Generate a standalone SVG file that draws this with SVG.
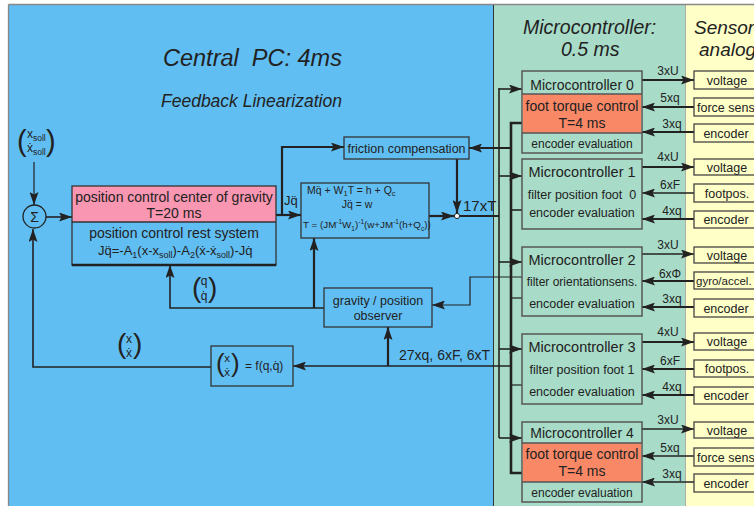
<svg xmlns="http://www.w3.org/2000/svg" width="754" height="506" viewBox="0 0 754 506">
  <defs>
    <marker id="ah" viewBox="0 0 13 9" markerWidth="13" markerHeight="9" refX="13" refY="4.5" orient="auto" markerUnits="userSpaceOnUse">
      <path d="M0,0 L13,4.5 L0,9 L2.5,4.5 z" fill="#222"/>
    </marker>
    <style>
      .t { font-family: "Liberation Sans", Arial, sans-serif; fill: #222; }
      .it { font-style: italic; }
      .mid { text-anchor: middle; }
      .box { stroke: #333; stroke-width: 1.3; }
      .mc { fill: #a8dcc8; stroke: #555; stroke-width: 1.5; }
      .sens { fill: #ffffc8; stroke: #444; stroke-width: 1.3; }
      .w1 { stroke: #222; stroke-width: 1.2; fill: none; }
      .w15 { stroke: #222; stroke-width: 1.6; fill: none; }
      .w2 { stroke: #222; stroke-width: 2.2; fill: none; }
      .w3 { stroke: #222; stroke-width: 2.6; fill: none; }
      .arr { marker-end: url(#ah); }
      .paren { font-family: "Liberation Sans", Arial, sans-serif; fill: #222; font-weight: 300; }
    </style>
  </defs>

  <!-- background panels -->
  <g id="panels">
    <rect x="0" y="0" width="754" height="506" fill="#ffffff"/>
    <rect x="9" y="5" width="484" height="501" fill="#61bef3"/>
    <rect x="493" y="5" width="192" height="501" fill="#a8dcc8"/>
    <rect x="685" y="5" width="69" height="501" fill="#ffffc8"/>
    <line x1="8.5" y1="4.5" x2="754" y2="4.5" stroke="#888" stroke-width="1.3"/>
    <line x1="8.5" y1="4.5" x2="8.5" y2="506" stroke="#888" stroke-width="1.3"/>
    <line x1="493.5" y1="5" x2="493.5" y2="506" stroke="#333" stroke-width="1"/>
    <line x1="685.5" y1="5" x2="685.5" y2="506" stroke="#999" stroke-width="0.8"/>
  </g>

  <!-- section titles -->
  <g id="titles">
    <text class="t it" x="163" y="66" font-size="23.5" xml:space="preserve">Central  PC: 4ms</text>
    <text class="t it" x="161" y="107" font-size="17.5">Feedback Linearization</text>
    <text class="t it" x="523" y="34" font-size="19.5">Microcontroller:</text>
    <text class="t it" x="561" y="56" font-size="19.5">0.5 ms</text>
    <text class="t it" x="694" y="34" font-size="19">Sensors</text>
    <text class="t it" x="699" y="56" font-size="19">analog</text>
  </g>

  <!-- connectors -->
  <g id="connectors">
    <line class="w1 arr" x1="34" y1="162" x2="34" y2="205"/>
    <line class="w15 arr" x1="46" y1="217" x2="72" y2="217"/>
    <polyline class="w15 arr" points="211,367 33,367 33,229"/>
    <line class="w2 arr" x1="276" y1="215" x2="301" y2="215"/>
    <polyline class="w2 arr" points="282,215 282,147 344,147"/>
    <line class="w2 arr" x1="457" y1="159" x2="457" y2="213"/>
    <line class="w2 arr" x1="429" y1="216" x2="454" y2="216"/>
    <line class="w2" x1="460" y1="216" x2="499" y2="216"/>
    <!-- command bus to the microcontrollers -->
    <line class="w15" x1="499" y1="88" x2="499" y2="438"/>
    <line class="w15 arr" x1="499" y1="89" x2="522" y2="89"/>
    <line class="w15 arr" x1="499" y1="176" x2="522" y2="176"/>
    <line class="w15 arr" x1="499" y1="262" x2="522" y2="262"/>
    <line class="w15 arr" x1="499" y1="349" x2="522" y2="349"/>
    <line class="w15 arr" x1="499" y1="438" x2="522" y2="438"/>
    <!-- measurement bus from the microcontrollers -->
    <polyline class="w3" points="522,123 511,123 511,473 522,473"/>
    <line class="w15" x1="511" y1="210" x2="522" y2="210"/>
    <line class="w1" x1="511" y1="298" x2="522" y2="298"/>
    <line class="w1" x1="511" y1="385" x2="522" y2="385"/>
    <line class="w2 arr" x1="511" y1="148" x2="469" y2="148"/>
    <line class="w15 arr" x1="511" y1="366" x2="293" y2="366"/>
    <line class="w2 arr" x1="388" y1="366" x2="388" y2="327"/>
    <polyline class="w1 arr" points="522,277 470,277 470,305 432,305"/>
    <polyline class="w15 arr" points="324,308 170,308 170,265"/>
    <line class="w2 arr" x1="314" y1="308" x2="314" y2="238"/>
    <!-- sensor lines -->
    <line class="w2 arr" x1="642" y1="80" x2="694" y2="80"/>
    <line class="w2 arr" x1="694" y1="107" x2="642" y2="107"/>
    <line class="w2 arr" x1="694" y1="132" x2="642" y2="132"/>
    <line class="w2 arr" x1="642" y1="167" x2="694" y2="167"/>
    <line class="w15 arr" x1="694" y1="193" x2="642" y2="193"/>
    <line class="w2 arr" x1="694" y1="219" x2="642" y2="219"/>
    <line class="w15 arr" x1="642" y1="254" x2="694" y2="254"/>
    <line class="w2 arr" x1="694" y1="281" x2="642" y2="281"/>
    <line class="w2 arr" x1="694" y1="307" x2="642" y2="307"/>
    <line class="w2 arr" x1="642" y1="342" x2="694" y2="342"/>
    <line class="w2 arr" x1="694" y1="369" x2="642" y2="369"/>
    <line class="w2 arr" x1="694" y1="395" x2="642" y2="395"/>
    <line class="w15 arr" x1="642" y1="429" x2="694" y2="429"/>
    <line class="w15 arr" x1="694" y1="456" x2="642" y2="456"/>
    <line class="w15 arr" x1="694" y1="482" x2="642" y2="482"/>
    <circle cx="457" cy="216" r="2.6" fill="#fff" stroke="#222" stroke-width="1"/>
  </g>

  <!-- connector labels -->
  <g id="labels">
    <text class="t" x="284" y="205" font-size="13">Jq&#x308;</text>
    <text class="t" x="463" y="211" font-size="15">17xT</text>
    <text class="t" x="399" y="360" font-size="14">27xq, 6xF, 6xT</text>
    <g font-size="12" class="t mid">
      <text class="t mid" x="668" y="75">3xU</text>
      <text class="t mid" x="670" y="102">5xq</text>
      <text class="t mid" x="672" y="128">3xq</text>
      <text class="t mid" x="668" y="161">4xU</text>
      <text class="t mid" x="670" y="189">6xF</text>
      <text class="t mid" x="672" y="215">4xq</text>
      <text class="t mid" x="668" y="249">3xU</text>
      <text class="t mid" x="670" y="278">6xΦ</text>
      <text class="t mid" x="672" y="303">3xq</text>
      <text class="t mid" x="668" y="336">4xU</text>
      <text class="t mid" x="670" y="365">6xF</text>
      <text class="t mid" x="672" y="391">4xq</text>
      <text class="t mid" x="668" y="424">3xU</text>
      <text class="t mid" x="670" y="452">5xq</text>
      <text class="t mid" x="672" y="478">3xq</text>
    </g>
    <!-- set-point vector -->
    <text class="paren" x="17" y="151" font-size="29">(</text>
    <text class="paren" x="46" y="151" font-size="29">)</text>
    <text class="t" x="27" y="138" font-size="12">x<tspan dy="3" font-size="8.5">soll</tspan></text>
    <text class="t" x="27" y="152" font-size="12">ẋ<tspan dy="3" font-size="8.5">soll</tspan></text>
    <!-- joint state vector -->
    <text class="paren" x="192" y="297" font-size="28">(</text>
    <text class="paren" x="208" y="297" font-size="28">)</text>
    <text class="t mid" x="204" y="285" font-size="12">q</text>
    <text class="t mid" x="204" y="300" font-size="12">q&#x307;</text>
    <!-- feedback vector -->
    <text class="paren" x="117" y="353" font-size="28">(</text>
    <text class="paren" x="133" y="353" font-size="28">)</text>
    <text class="t mid" x="129" y="343" font-size="12">x</text>
    <text class="t mid" x="129" y="357" font-size="12">ẋ</text>
  </g>

  <!-- summation point -->
  <g id="sum">
    <circle cx="34.5" cy="216.5" r="11.5" fill="none" stroke="#222" stroke-width="1.3"/>
    <text class="t mid" x="34.5" y="221.5" font-size="14">Σ</text>
  </g>

  <!-- position controller -->
  <g id="position-control">
    <rect x="72" y="186" width="204" height="36" fill="#f996b1"/>
    <rect x="72" y="186" width="204" height="79" fill="none" class="box"/>
    <line x1="72" y1="222" x2="276" y2="222" class="box"/>
    <line x1="72" y1="265" x2="276" y2="265" stroke="#222" stroke-width="2.6"/>
    <text class="t mid" x="174" y="202" font-size="14">position control center of gravity</text>
    <text class="t mid" x="174" y="218" font-size="14">T=20 ms</text>
    <text class="t mid" x="174" y="238" font-size="14">position control rest system</text>
    <text class="t" x="98" y="255" font-size="13">Jq&#x308;=-A<tspan dy="3" font-size="9">1</tspan><tspan dy="-3">(x-x</tspan><tspan dy="3" font-size="9">soll</tspan><tspan dy="-3">)-A</tspan><tspan dy="3" font-size="9">2</tspan><tspan dy="-3">(ẋ-ẋ</tspan><tspan dy="3" font-size="9">soll</tspan><tspan dy="-3">)-Jq&#x307;</tspan></text>
  </g>

  <!-- feedback linearization -->
  <g id="feedback-linearization">
    <rect x="301" y="183" width="128" height="55" fill="none" class="box"/>
    <text class="t" x="307" y="194" font-size="10.5" xml:space="preserve">Mq&#x308; + W<tspan dy="2" font-size="7.5">1</tspan><tspan dy="-2">T = h + Q</tspan><tspan dy="2" font-size="7.5">c</tspan></text>
    <text class="t mid" x="357" y="207.5" font-size="10.5">Jq&#x308; = w</text>
    <text class="t" x="303" y="228" font-size="9.8">T = (JM<tspan dy="-4" font-size="6.5">-1</tspan><tspan dy="4">W</tspan><tspan dy="2.5" font-size="6.5">1</tspan><tspan dy="-2.5">)</tspan><tspan dy="-4" font-size="6.5">-1</tspan><tspan dy="4">(w+JM</tspan><tspan dy="-4" font-size="6.5">-1</tspan><tspan dy="4">(h+Q</tspan><tspan dy="2.5" font-size="6.5">c</tspan><tspan dy="-2.5">))</tspan></text>
  </g>

  <!-- friction compensation -->
  <g id="friction-compensation">
    <rect x="344" y="137" width="125" height="22" fill="none" class="box"/>
    <text class="t mid" x="406.5" y="152.5" font-size="12.5">friction compensation</text>
  </g>

  <!-- observer -->
  <g id="observer">
    <rect x="324" y="288" width="108" height="39" fill="none" class="box"/>
    <text class="t mid" x="378" y="305" font-size="12.5">gravity / position</text>
    <text class="t mid" x="378" y="320" font-size="12.5">observer</text>
  </g>

  <!-- forward kinematics -->
  <g id="kinematics">
    <rect x="211" y="346" width="82" height="40" fill="none" class="box"/>
    <text class="paren" x="216" y="372" font-size="26">(</text>
    <text class="paren" x="231" y="372" font-size="26">)</text>
    <text class="t mid" x="227" y="362" font-size="11.5">x</text>
    <text class="t mid" x="227" y="376" font-size="11.5">ẋ</text>
    <text class="t" x="245" y="370" font-size="12">= f(q,q&#x307;)</text>
  </g>

  <!-- microcontrollers -->
  <g id="mc0">
    <rect class="mc" x="522" y="71" width="120" height="82"/>
    <rect x="522.8" y="94" width="118.4" height="39" fill="#f98866"/>
    <line x1="522" y1="94" x2="642" y2="94" stroke="#555" stroke-width="1.3"/>
    <line x1="522" y1="133" x2="642" y2="133" stroke="#555" stroke-width="1.3"/>
    <text class="t mid" x="582" y="90" font-size="14">Microcontroller 0</text>
    <text class="t mid" x="582" y="111" font-size="14">foot torque control</text>
    <text class="t mid" x="582" y="128" font-size="14">T=4 ms</text>
    <text class="t mid" x="582" y="148" font-size="12">encoder evaluation</text>
  </g>
  <g id="mc1">
    <rect class="mc" x="522" y="159" width="120" height="70"/>
    <text class="t mid" x="582" y="177" font-size="14.5">Microcontroller 1</text>
    <text class="t mid" x="582" y="199" font-size="12.5" xml:space="preserve">filter position foot  0</text>
    <text class="t mid" x="582" y="217" font-size="12.5">encoder evaluation</text>
  </g>
  <g id="mc2">
    <rect class="mc" x="522" y="247" width="120" height="69"/>
    <text class="t mid" x="582" y="265" font-size="14.5">Microcontroller 2</text>
    <text class="t mid" x="582" y="286" font-size="12">filter orientationsens.</text>
    <text class="t mid" x="582" y="308" font-size="12.5">encoder evaluation</text>
  </g>
  <g id="mc3">
    <rect class="mc" x="522" y="334" width="120" height="70"/>
    <text class="t mid" x="582" y="352" font-size="14.5">Microcontroller 3</text>
    <text class="t mid" x="582" y="374" font-size="12.5">filter position foot 1</text>
    <text class="t mid" x="582" y="396" font-size="12.5">encoder evaluation</text>
  </g>
  <g id="mc4">
    <rect class="mc" x="522" y="422" width="120" height="80"/>
    <rect x="522.8" y="443" width="118.4" height="39" fill="#f98866"/>
    <line x1="522" y1="443" x2="642" y2="443" stroke="#555" stroke-width="1.3"/>
    <line x1="522" y1="482" x2="642" y2="482" stroke="#555" stroke-width="1.3"/>
    <text class="t mid" x="582" y="438" font-size="14">Microcontroller 4</text>
    <text class="t mid" x="582" y="459" font-size="14">foot torque control</text>
    <text class="t mid" x="582" y="476" font-size="14">T=4 ms</text>
    <text class="t mid" x="582" y="497" font-size="12">encoder evaluation</text>
  </g>

  <!-- sensors -->
  <g id="sensors" font-size="12.5">
    <g id="s0-voltage"><rect class="sens" x="694" y="71" width="70" height="18"/><text class="t mid" x="727" y="85" font-size="12.5">voltage</text></g>
    <g id="s0-force"><rect class="sens" x="694" y="98" width="70" height="18"/><text class="t" x="697" y="112" font-size="12.5">force sens</text></g>
    <g id="s0-encoder"><rect class="sens" x="694" y="124" width="70" height="18"/><text class="t mid" x="726" y="138" font-size="12.5">encoder</text></g>
    <g id="s1-voltage"><rect class="sens" x="694" y="159" width="70" height="16"/><text class="t mid" x="727" y="172" font-size="12.5">voltage</text></g>
    <g id="s1-footpos"><rect class="sens" x="694" y="184" width="70" height="18"/><text class="t mid" x="727" y="198" font-size="12.5">footpos.</text></g>
    <g id="s1-encoder"><rect class="sens" x="694" y="211" width="70" height="17"/><text class="t mid" x="726" y="224" font-size="12.5">encoder</text></g>
    <g id="s2-voltage"><rect class="sens" x="694" y="247" width="70" height="16"/><text class="t mid" x="727" y="260" font-size="12.5">voltage</text></g>
    <g id="s2-gyro"><rect class="sens" x="694" y="272" width="70" height="17"/><text class="t" x="696" y="285" font-size="11.5">gyro/accel.</text></g>
    <g id="s2-encoder"><rect class="sens" x="694" y="299" width="70" height="18"/><text class="t mid" x="726" y="313" font-size="12.5">encoder</text></g>
    <g id="s3-voltage"><rect class="sens" x="694" y="333" width="70" height="17"/><text class="t mid" x="727" y="346" font-size="12.5">voltage</text></g>
    <g id="s3-footpos"><rect class="sens" x="694" y="360" width="70" height="17"/><text class="t mid" x="727" y="373" font-size="12.5">footpos.</text></g>
    <g id="s3-encoder"><rect class="sens" x="694" y="387" width="70" height="17"/><text class="t mid" x="726" y="400" font-size="12.5">encoder</text></g>
    <g id="s4-voltage"><rect class="sens" x="694" y="422" width="70" height="16"/><text class="t mid" x="727" y="435" font-size="12.5">voltage</text></g>
    <g id="s4-force"><rect class="sens" x="694" y="448" width="70" height="18"/><text class="t" x="697" y="462" font-size="12.5">force sens</text></g>
    <g id="s4-encoder"><rect class="sens" x="694" y="474" width="70" height="18"/><text class="t mid" x="726" y="488" font-size="12.5">encoder</text></g>
  </g>
</svg>
